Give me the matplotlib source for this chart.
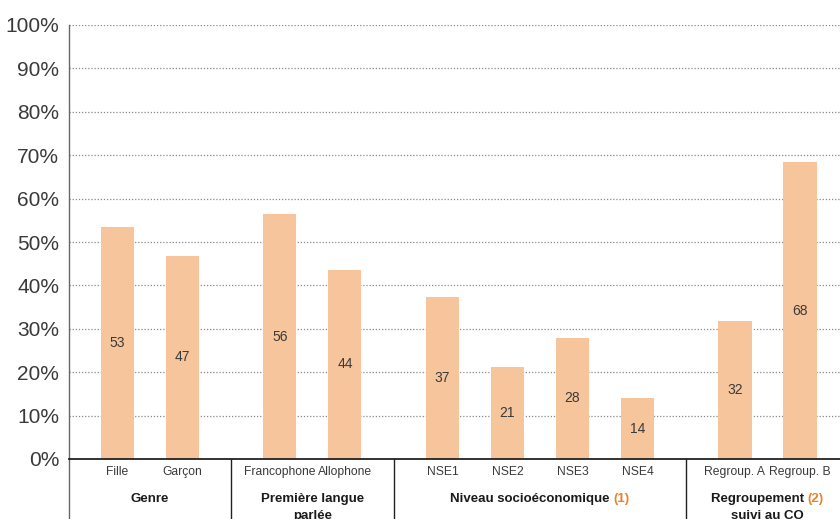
import numpy as np
import matplotlib
matplotlib.use("Agg")
import matplotlib.pyplot as plt
import matplotlib.transforms as mtransforms

plt.rcParams['font.family'] = ['Liberation Sans', 'DejaVu Sans']

categories = ["Fille", "Garçon", "Francophone", "Allophone",
              "NSE1", "NSE2", "NSE3", "NSE4", "Regroup. A", "Regroup. B"]
values = [53.4, 46.8, 56.4, 43.6, 37.3, 21.2, 27.9, 14.0, 31.8, 68.4]
labels = ["53", "47", "56", "44", "37", "21", "28", "14", "32", "68"]
group_sizes = [2, 2, 4, 2]
group_main = ["Genre", "Première langue", "Niveau socioéconomique", "Regroupement"]
group_note = ["", "", "(1)", "(2)"]
group_line2 = ["", "parlée", "", "suivi au CO"]

bar_color = "#F7C59B"
text_color = "#3a3a3a"
note_color = "#E8822A"

# x positions: 1 unit inside a group, 1.5 between groups
pos = []
x = 0.0
for g, n in enumerate(group_sizes):
    for i in range(n):
        pos.append(x)
        x += 1
    x += 0.5
pos = np.array(pos)

fig = plt.figure(figsize=(8.4, 5.19), dpi=100)
ax = fig.add_axes([69 / 840, 60 / 519, 1 - 69 / 840, 434 / 519])

ax.bar(pos, values, width=0.508, color=bar_color, zorder=2)
for p, v, lab in zip(pos, values, labels):
    ax.text(p, v / 2, lab, ha="center", va="center", fontsize=10, color=text_color, zorder=3)

ax.set_ylim(0, 100)
ax.set_xlim(pos[0] - 0.745, pos[0] + (840 - 117.5) / 65)
ax.set_yticks(np.arange(0, 101, 10))
ax.set_yticklabels([f"{t}%" for t in range(0, 101, 10)], fontsize=15, color=text_color)
ax.tick_params(axis="y", length=0, pad=7)
ax.set_xticks(pos)
ax.set_xticklabels(categories, fontsize=8.7, color=text_color)
ax.tick_params(axis="x", length=0, pad=5)

for yv in range(10, 101, 10):
    ax.axhline(yv, color="#888888", linewidth=0.9, linestyle=(0, (1, 1.5)), zorder=1)

for s in ["top", "right"]:
    ax.spines[s].set_visible(False)
ax.spines["bottom"].set_color("#222222")
ax.spines["bottom"].set_linewidth(1.3)
ax.spines["left"].set_color("#666666")
ax.spines["left"].set_linewidth(1.0)

trans = mtransforms.blended_transform_factory(ax.transData, ax.transAxes)
x0 = ax.get_xlim()[0]
ax.plot([x0, x0], [0, -0.2], transform=trans, color="#666666", linewidth=1.0, clip_on=False)

# group separators and labels
idx = 0
centers = []
for g, n in enumerate(group_sizes):
    first, last = pos[idx], pos[idx + n - 1]
    centers.append((first + last) / 2)
    if idx + n < len(pos):
        sep = (last + pos[idx + n]) / 2
        ax.plot([sep, sep], [0, -0.2], transform=trans, color="#222222", linewidth=1.0, clip_on=False)
    idx += n

fig.canvas.draw()
renderer = fig.canvas.get_renderer()
y_line1 = -40 / 434
y_line2 = -57 / 434
for c, main, note, l2 in zip(centers, group_main, group_note, group_line2):
    t1 = ax.text(c, y_line1, main + (" " if note else ""), transform=trans, ha="left", va="center",
                 fontsize=9.5, fontweight="bold", color="#1a1a1a", clip_on=False)
    parts = [t1]
    if note:
        t2 = ax.annotate(note, xy=(1, 0), xycoords=t1, va="bottom", ha="left",
                         fontsize=9.5, fontweight="bold", color=note_color, annotation_clip=False)
        parts.append(t2)
    fig.canvas.draw()
    w = sum(p.get_window_extent(renderer).width for p in parts)
    shift = mtransforms.offset_copy(trans, fig=fig, x=-w / 2, units="dots")
    t1.set_transform(shift)
    if l2:
        ax.text(c, y_line2, l2, transform=trans, ha="center", va="center",
                fontsize=9.5, fontweight="bold", color="#1a1a1a", clip_on=False)

fig.savefig("out.png", dpi=100)
